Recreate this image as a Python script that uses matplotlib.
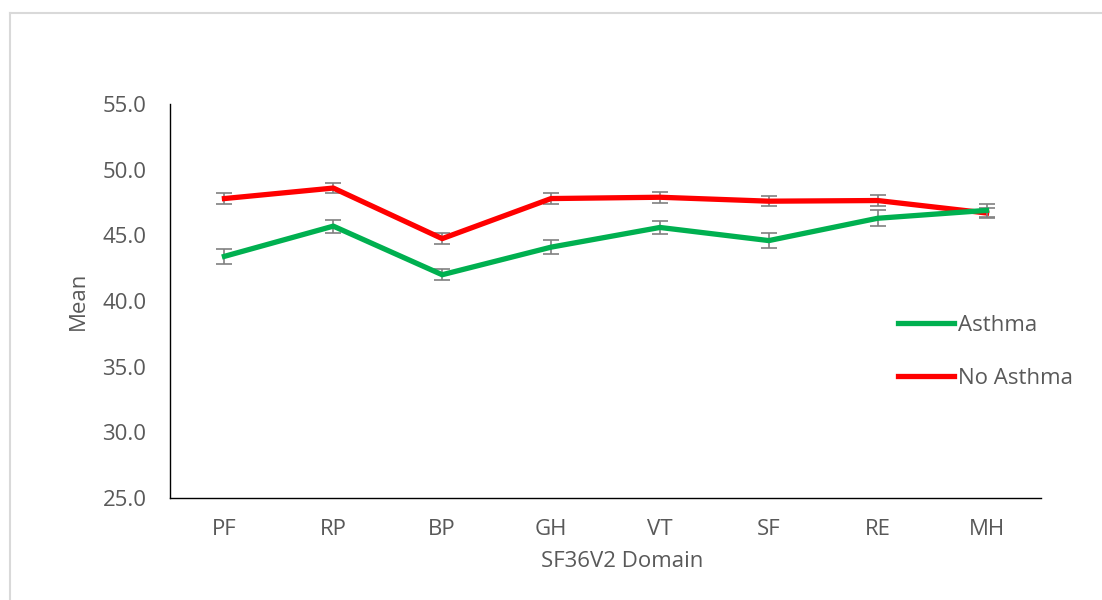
import matplotlib
matplotlib.use("Agg")
import matplotlib.pyplot as plt
from matplotlib.lines import Line2D

# data
domains = ["PF", "RP", "BP", "GH", "VT", "SF", "RE", "MH"]
asthma = [43.4, 45.7, 42.0, 44.1, 45.6, 44.6, 46.3, 46.9]
asthma_err = [0.55, 0.5, 0.4, 0.55, 0.5, 0.6, 0.6, 0.5]
no_asthma = [47.8, 48.6, 44.75, 47.8, 47.9, 47.6, 47.65, 46.7]
no_asthma_err = [0.4, 0.4, 0.4, 0.4, 0.4, 0.4, 0.4, 0.4]
yticks = [25.0, 30.0, 35.0, 40.0, 45.0, 50.0, 55.0]

txt = "#595959"
fs = 16
plt.rcParams["font.family"] = ["Open Sans", "DejaVu Sans"]

fig = plt.figure(figsize=(11.02, 6.0), dpi=100)
ax = fig.add_axes([170/1102, 102/600, 871/1102, 394/600])

x = list(range(len(domains)))
ax.errorbar(x, asthma, yerr=asthma_err, color="#00b050", lw=3.8, ecolor="#808080",
            elinewidth=1.2, capsize=6, capthick=1.2, label="Asthma", zorder=3)
ax.errorbar(x, no_asthma, yerr=no_asthma_err, color="#ff0000", lw=3.8, ecolor="#808080",
            elinewidth=1.2, capsize=6, capthick=1.2, label="No Asthma", zorder=2)

ax.set_xlim(-0.5, len(domains) - 0.5)
ax.set_ylim(25, 55)
ax.set_xticks(x)
ax.set_xticklabels(domains)
ax.set_yticks(yticks)
ax.set_yticklabels([f"{v:.1f}" for v in yticks])
ax.tick_params(length=0, labelsize=fs, colors=txt)
ax.tick_params(axis="y", pad=17)
ax.tick_params(axis="x", pad=15)

for s in ["top", "right"]:
    ax.spines[s].set_visible(False)
for s in ["left", "bottom"]:
    ax.spines[s].set_color("#000000")
    ax.spines[s].set_linewidth(1.0)

ax.set_ylabel("Mean", fontsize=fs, color=txt, labelpad=10)
ax.set_xlabel("SF36V2 Domain", fontsize=fs, color=txt)
ax.xaxis.set_label_coords((622 - 170) / 871, -0.1345)

h1 = Line2D([], [], color="#00b050", lw=3.8)
h2 = Line2D([], [], color="#ff0000", lw=3.8)
leg = fig.legend([h1, h2], ["Asthma", "No Asthma"], loc="upper left",
                 bbox_to_anchor=(878/1102, 1 - 295/600), frameon=False, fontsize=fs,
                 handlelength=2.5, handletextpad=0.2, labelspacing=1.43)
for t in leg.get_texts():
    t.set_color(txt)

# chart-area border (top and left visible)
fig.add_artist(Line2D([10/1102, 1.0], [1 - 13/600, 1 - 13/600], color="#d9d9d9", lw=1.5))
fig.add_artist(Line2D([10/1102, 10/1102], [0, 1 - 13/600], color="#d9d9d9", lw=1.5))

fig.savefig("out.png", dpi=100)
